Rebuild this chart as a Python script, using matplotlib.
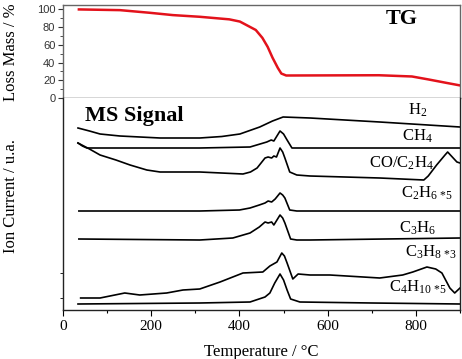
import matplotlib
matplotlib.use("Agg")
import matplotlib.pyplot as plt
from matplotlib.ticker import MultipleLocator

plt.rcParams['mathtext.fontset'] = 'custom'
plt.rcParams['mathtext.rm'] = 'Liberation Serif'
SERIF = 'Liberation Serif'
SANS = 'Liberation Sans'

# TG curve (mass %)
tg_T = [36, 129, 197, 249, 310, 377, 401, 423, 437, 452, 464, 475, 487, 495, 506,
        716, 791, 829, 870, 900]
tg_mass = [100, 99.2, 96.2, 93.6, 91.7, 88.8, 86.3, 80.5, 76.8, 67.9, 57.7, 45.5, 34, 27.6, 25.4,
           25.7, 24.3, 20.9, 17, 14.2]

# MS signals (arbitrary units, already stacked)
h2_T = [34, 60, 84, 129, 220, 310, 360, 401, 446, 475, 499, 560, 718, 900]
h2_v = [182, 179, 176, 174, 172, 172, 173.5, 176, 183, 189, 193, 192, 188, 183]

ch4_T = [34, 44, 54, 310, 424, 462, 472, 478, 492, 500, 508, 519, 900]
ch4_v = [167, 164, 162, 162, 163, 168, 170, 169, 179, 176, 170, 162, 162]

co_T = [34, 60, 84, 120, 152, 190, 220, 310, 408, 425, 440, 458, 465, 473, 478, 484, 492,
        498, 503, 514, 530, 560, 718, 818, 828, 847, 866, 872, 893, 900]
co_v = [167, 161, 155, 150, 145, 140, 138, 138, 136, 138, 142, 152, 153, 152, 154, 153, 162,
        158, 152, 138, 135, 134, 132, 130, 134, 145, 155, 158, 148, 147]

c2h6_T = [36, 310, 400, 424, 445, 458, 465, 473, 481, 492, 498, 503, 514, 530, 560, 900]
c2h6_v = [99, 99, 100, 102, 105, 107, 109, 108, 111, 117, 115, 112, 100, 99, 99, 99]

c3h6_T = [36, 310, 385, 424, 445, 458, 465, 473, 478, 492, 498, 503, 516, 530, 560, 900]
c3h6_v = [71, 70, 72, 77, 83, 88, 87, 88, 85, 95, 92, 87, 71, 70, 70, 72]

c3h8_T = [40, 84, 140, 174, 235, 272, 310, 356, 408, 453, 469, 485, 496, 502, 508, 521,
          533, 560, 605, 718, 770, 793, 825, 845, 859, 877, 888, 900]
c3h8_v = [12, 12, 17, 15, 17, 20, 21, 28, 37, 38, 44, 48, 57, 54, 47, 31,
          36, 35, 35, 32, 35, 38, 43, 41, 37, 22, 17, 22]

c4h10_T = [34, 310, 424, 458, 469, 480, 492, 500, 508, 516, 537, 700, 900]
c4h10_v = [6, 7, 8, 13, 17, 27, 36, 30, 20, 11, 8, 7, 6]

ms_curves = [(h2_T, h2_v), (ch4_T, ch4_v), (co_T, co_v), (c2h6_T, c2h6_v),
             (c3h6_T, c3h6_v), (c3h8_T, c3h8_v), (c4h10_T, c4h10_v)]

# label text, x (temperature), baseline y
ms_labels = [
    (r'$\mathregular{H_2}$', 804, 195),
    (r'$\mathregular{CH_4}$', 804, 169),
    (r'$\mathregular{CO/C_2H_4}$', 768, 142),
    (r'$\mathregular{C_2H_6\,{}_{*5}}$', 825, 112),
    (r'$\mathregular{C_3H_6}$', 804, 77),
    (r'$\mathregular{C_3H_8\,{}_{*3}}$', 835, 53),
    (r'$\mathregular{C_4H_{10}\,{}_{*5}}$', 804, 18),
]

fig = plt.figure(figsize=(4.62, 3.59), dpi=100)
ax1 = fig.add_axes([63/462, 1-98/359, 397/462, 93/359])
ax2 = fig.add_axes([63/462, 1-310/359, 397/462, 212/359])

# top panel
ax1.plot(tg_T, tg_mass, color='#e3121b', lw=1.8)
ax1.set_xlim(0, 900)
ax1.set_ylim(0, 105)
ax1.set_yticks([0, 20, 40, 60, 80, 100])
ax1.yaxis.set_minor_locator(MultipleLocator(10))
ax1.set_xticks([])
ax1.tick_params(axis='y', which='major', direction='out', length=3.5, width=0.8,
                labelsize=8, pad=2, colors='#333333')
ax1.tick_params(axis='y', which='minor', direction='out', length=2, width=0.6, color='#333333')
for lab in ax1.get_yticklabels():
    lab.set_fontfamily(SANS)
for s in ax1.spines.values():
    s.set_color('#666666')
    s.set_linewidth(1.0)
ax1.spines['bottom'].set_color('#333333')
ax1.text(768, 89, 'TG', fontsize=16, fontweight='bold', family=SERIF,
         ha='center', va='center')

# bottom panel
for T, v in ms_curves:
    ax2.plot(T, v, color='black', lw=1.2)
for txt, x, y in ms_labels:
    ax2.text(x, y, txt, fontsize=12, ha='center', va='baseline', family=SERIF)
ax2.set_xlim(0, 900)
ax2.set_ylim(0, 212)
ax2.set_xticks([0, 200, 400, 600, 800])
ax2.xaxis.set_minor_locator(MultipleLocator(100))
ax2.set_yticks([12, 37])
ax2.set_yticklabels([])
ax2.tick_params(axis='x', which='major', direction='out', length=4, width=0.8,
                labelsize=11, pad=3)
ax2.tick_params(axis='x', which='minor', direction='out', length=2.5, width=0.8)
ax2.tick_params(axis='y', direction='out', length=2.5, width=0.6)
for lab in ax2.get_xticklabels():
    lab.set_fontfamily(SERIF)
for s in ax2.spines.values():
    s.set_color('#222222')
    s.set_linewidth(1.0)
ax2.spines['top'].set_visible(False)
ax2.text(50, 194, 'MS Signal', fontsize=16, fontweight='bold', family=SERIF,
         ha='left', va='center')

fig.text(11/462, 1-52/359, 'Loss Mass / %', rotation=90, fontsize=12, family=SERIF,
         ha='center', va='center')
fig.text(11/462, 1-196/359, 'Ion Current / u.a.', rotation=90, fontsize=12, family=SERIF,
         ha='center', va='center')
fig.text(261/462, 1-343.5/359, 'Temperature / °C', fontsize=12, family=SERIF,
         ha='center', va='top')

fig.savefig('out.png', dpi=100)
